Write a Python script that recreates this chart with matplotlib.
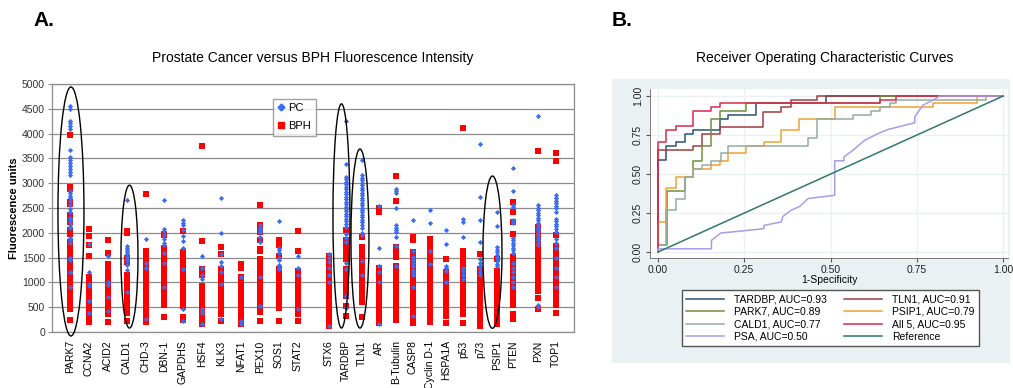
#!/usr/bin/env python3
"""
Two-panel figure:
A. PC vs BPH fluorescence intensity per autoantigen (strip plot)
B. ROC curves for the best markers and the 5-marker panel
"""

import matplotlib
matplotlib.use("Agg")
import matplotlib.pyplot as plt
from matplotlib.patches import Ellipse, Rectangle
from matplotlib.lines import Line2D

plt.rcParams["font.family"] = ["Liberation Sans", "DejaVu Sans"]

# ==========================
# Panel A data
# ==========================
genes = ["PARK7", "CCNA2", "ACID2", "CALD1", "CHD-3", "DBN-1", "GAPDHS", "HSF4",
         "KLK3", "NFAT1", "PEX10", "SOS1", "STAT2", "STX6", "TARDBP", "TLN1",
         "AR", "B-Tubulin", "CASP8", "Cyclin D-1", "HSPA1A", "p53", "p73",
         "PSIP1", "PTEN", "PXN", "TOP1"]

# category positions on the x axis (uneven spacing as in the original sheet)
gene_pos = [18, 37, 56, 75, 94, 112, 131, 150, 169, 189, 208, 227, 246,
            277, 294, 310, 327, 344, 361, 378, 394, 411, 428, 445, 461, 486, 504]

pc_vals = [
    [4560, 4500, 4260, 4210, 4160, 4100, 3660, 3520, 3460, 3400, 3340, 3280, 3220,
     3160, 2850, 2800, 2750, 2700, 2650, 2560, 2480, 2420, 2300, 2250, 2200, 2150,
     2100, 1900, 1850, 1800, 1500, 1450, 1200, 900],                                 # PARK7
    [1780, 1200, 970, 930, 620, 380],                                                 # CCNA2
    [1540, 1000, 950, 700, 420],                                                      # ACID2
    [2670, 1730, 1690, 1650, 1610, 1570, 1530, 1480, 1430, 1360, 1250, 800],          # CALD1
    [1870, 1400, 1300, 260],                                                          # CHD-3
    [2670, 2080, 2030, 1960, 1880, 1800, 1750, 1600, 1400, 900],                      # DBN-1
    [2250, 2200, 2150, 2050, 1930, 1830, 1700, 1270, 460, 220],                       # GAPDHS
    [1530, 1300, 1140, 1070, 460, 420, 380, 155],                                     # HSF4
    [2710, 2000, 1575, 1420, 1340, 1200, 970, 260],                                   # KLK3
    [1100, 220, 160],                                                                 # NFAT1
    [2150, 2100, 2050, 2010, 1920, 1810, 1100, 530],                                  # PEX10
    [2230, 1700, 1650, 1600, 1500, 1450, 1350, 1300, 1270],                           # SOS1
    [1540, 1300, 1140, 460],                                                          # STAT2
    [1580, 1500, 1420, 1300, 1140, 1000, 120],                                        # STX6
    [4250, 3390, 3130, 3080, 3030, 2980, 2930, 2880, 2830, 2780, 2730, 2680, 2630,
     2580, 2530, 2480, 2430, 2380, 2330, 2280, 2230, 2180, 2120, 1980, 1900, 1810,
     1400, 1270, 730, 490],                                                           # TARDBP
    [3470, 3160, 3110, 3060, 3010, 2960, 2910, 2860, 2810, 2760, 2710, 2660, 2610,
     2560, 2510, 2460, 2410, 2360, 2310, 2260, 2210, 2160, 2100, 2000, 1950, 1440,
     1140],                                                                           # TLN1
    [2535, 1690, 1340, 1200, 1000, 155],                                              # AR
    [2890, 2850, 2810, 2510, 2150, 2100, 2050, 2010, 1910, 1740, 1340],               # B-Tubulin
    [2250, 1640, 1510, 1450, 1390, 1330, 1260, 1200, 1140, 900, 325],                 # CASP8
    [2450, 2200, 1630, 1370],                                                         # Cyclin D-1
    [2060, 1780, 1340, 1300, 1240, 1000],                                             # HSPA1A
    [2280, 2220, 1910, 1300, 1230, 1150, 1070],                                       # p53
    [3800, 2720, 2260, 1810, 1470, 1400, 1330, 1270, 1200, 1140],                     # p73
    [2420, 2130, 1710, 1660, 1610, 1560, 1500, 1440, 1380, 1340],                     # PSIP1
    [3300, 2850, 2560, 2530, 2260, 2200, 1900, 1850, 1800, 1750, 1700, 1650, 1600,
     1400, 1300, 1200, 1100, 1000, 900],                                              # PTEN
    [4350, 2560, 2500, 2450, 2400, 2350, 2300, 2250, 2200, 2150, 2100, 2050, 2000,
     1950, 1900, 1850, 1800, 1750, 550, 500],                                         # PXN
    [2760, 2700, 2650, 2600, 2550, 2500, 2420, 2280, 2230, 2180, 2130, 2080, 2010,
     1880, 1800, 1700, 1500, 1300, 1100, 900],                                        # TOP1
]

bph_vals = [
    [3970, 2920, 2880, 2620, 2580, 2360, 2300, 2220, 2050, 1980, 1820, 1780, 1700,
     1650, 1600, 1550, 1500, 1450, 1400, 1350, 1300, 1250, 1200, 1150, 1100, 1050,
     1000, 950, 900, 850, 800, 750, 700, 650, 600, 500, 470, 250],                    # PARK7
    [2080, 1930, 1750, 1530, 1110, 1050, 990, 930, 870, 810, 750, 690, 630, 570,
     510, 450, 390, 330, 200],                                                        # CCNA2
    [1850, 1600, 1370, 1300, 1250, 1130, 1070, 1010, 950, 890, 830, 770, 710, 650,
     590, 530, 470, 410, 360, 200],                                                   # ACID2
    [2040, 2000, 1500, 1420, 1150, 1100, 1040, 980, 920, 860, 800, 740, 680, 620,
     560, 500, 440, 380, 220],                                                        # CALD1
    [2780, 1640, 1540, 1490, 1370, 1300, 1170, 1110, 1050, 990, 930, 870, 810, 750,
     690, 630, 570, 510, 450, 390, 330, 200],                                         # CHD-3
    [1980, 1950, 1700, 1650, 1600, 1550, 1500, 1440, 1380, 1320, 1260, 1200, 1140,
     1080, 1020, 960, 900, 840, 780, 720, 660, 600, 550, 310],                        # DBN-1
    [2030, 1610, 1560, 1500, 1450, 1400, 1300, 1240, 1180, 1120, 1060, 1000, 940,
     880, 820, 760, 700, 640, 580, 530, 310, 250],                                    # GAPDHS
    [3750, 1825, 1270, 1210, 1150, 930, 870, 810, 750, 690, 630, 570, 510, 450,
     390, 330, 270, 210, 160],                                                        # HSF4
    [1720, 1575, 1270, 1210, 1140, 1080, 1020, 960, 900, 840, 780, 720, 660, 600,
     540, 480, 420, 360, 220],                                                        # KLK3
    [1370, 1300, 1100, 1040, 980, 920, 860, 800, 740, 680, 620, 560, 500, 440, 380,
     320, 260, 200, 155],                                                             # NFAT1
    [2570, 2150, 2080, 2010, 1850, 1680, 1640, 1470, 1410, 1350, 1290, 1230, 1170,
     1110, 1050, 990, 930, 870, 810, 750, 690, 630, 570, 530, 410, 220],              # PEX10
    [1850, 1800, 1750, 1540, 1270, 1210, 1150, 1090, 1030, 970, 910, 850, 790, 730,
     670, 610, 550, 490, 220],                                                        # SOS1
    [2040, 1630, 1240, 1180, 1120, 1060, 1000, 940, 880, 820, 760, 700, 640, 580,
     520, 460, 400, 360, 220],                                                        # STAT2
    [1540, 1480, 1420, 1360, 1300, 1240, 1180, 1120, 1060, 1000, 940, 880, 820, 760,
     700, 640, 580, 520, 460, 400, 340, 280, 220, 160, 120],                          # STX6
    [2050, 1850, 1780, 1720, 1660, 1600, 1540, 1480, 1270, 1210, 1150, 1090, 1030,
     970, 910, 850, 790, 730, 530, 325],                                              # TARDBP
    [1910, 1710, 1650, 1590, 1530, 1470, 1400, 1340, 1200, 1140, 1080, 1020, 960,
     900, 840, 780, 720, 600, 310],                                                   # TLN1
    [2500, 2420, 1300, 1240, 1180, 1120, 1060, 1000, 940, 880, 820, 760, 700, 640,
     580, 520, 460, 400, 340, 280, 220, 190],                                         # AR
    [3150, 2650, 1710, 1650, 1580, 1510, 1340, 1280, 1220, 1160, 1100, 1040, 980,
     920, 860, 800, 740, 680, 620, 560, 500, 440, 380, 325, 245],                     # B-Tubulin
    [1910, 1850, 1610, 1510, 1450, 1390, 1330, 1270, 1210, 1150, 1090, 1030, 970,
     910, 850, 790, 730, 670, 610, 550, 490, 430, 370, 310, 250, 190],                # CASP8
    [1880, 1820, 1760, 1700, 1640, 1580, 1520, 1460, 1400, 1340, 1280, 1220, 1160,
     1100, 1040, 980, 920, 860, 800, 740, 680, 620, 560, 500, 440, 380, 320, 260,
     200],                                                                            # Cyclin D-1
    [1470, 1200, 1140, 1080, 1020, 960, 900, 840, 780, 720, 660, 600, 540, 480, 420,
     360, 325, 190],                                                                  # HSPA1A
    [4120, 1640, 1580, 1520, 1460, 1400, 1340, 1280, 1220, 1160, 1100, 1040, 980,
     920, 860, 800, 740, 680, 620, 560, 500, 460, 360, 190],                          # p53
    [1575, 1270, 1210, 1150, 1090, 1030, 970, 910, 850, 790, 730, 670, 610, 550,
     490, 430, 370, 310, 250, 190, 120],                                              # p73
    [1470, 1240, 1180, 1120, 1060, 1000, 940, 880, 820, 760, 700, 640, 580, 520,
     460, 400, 340, 280, 220, 155],                                                   # PSIP1
    [2620, 2420, 2220, 1980, 1510, 1450, 1390, 1330, 1270, 1210, 1150, 1090, 1030,
     970, 910, 850, 790, 730, 670, 610, 550, 360, 300, 260],                          # PTEN
    [3650, 2120, 2060, 2000, 1940, 1880, 1820, 1760, 1700, 1640, 1580, 1520, 1460,
     1400, 1340, 1280, 1220, 1160, 1100, 1040, 980, 920, 860, 830, 680, 460],         # PXN
    [3600, 3450, 1960, 1740, 1680, 1610, 1510, 1450, 1390, 1330, 1270, 1210, 1150,
     1090, 1030, 970, 910, 850, 790, 730, 670, 610, 550, 380],                        # TOP1
]

# circled markers: (gene, x offset, y centre, width, height)
circled = [("PARK7", 1, 2430, 26, 5020),
           ("CALD1", 2.5, 1520, 17, 2880),
           ("TARDBP", -4.5, 2340, 17, 4520),
           ("TLN1", -2, 1885, 18, 3610),
           ("PSIP1", -4.5, 1610, 19, 3070)]

# ==========================
# Panel B data (ROC vertices)
# ==========================
roc_tardbp_fpr = [0, 0, 0.024, 0.024, 0.051, 0.051, 0.077, 0.077, 0.103, 0.103, 0.18, 0.18,
                  0.203, 0.203, 0.283, 0.283, 0.488, 0.488, 1.0]
roc_tardbp_tpr = [0, 0.59, 0.59, 0.68, 0.68, 0.707, 0.707, 0.756, 0.756, 0.78, 0.78, 0.852,
                  0.852, 0.878, 0.878, 0.953, 0.953, 1.0, 1.0]

roc_tln1_fpr = [0, 0, 0.103, 0.103, 0.128, 0.128, 0.18, 0.18, 0.304, 0.304, 0.357, 0.357,
                0.384, 0.384, 0.461, 0.461, 1.0]
roc_tln1_tpr = [0, 0.657, 0.657, 0.68, 0.68, 0.756, 0.756, 0.80, 0.80, 0.90, 0.90, 0.927,
                0.927, 0.975, 0.975, 1.0, 1.0]

roc_park7_fpr = [0, 0, 0.026, 0.026, 0.077, 0.077, 0.103, 0.103, 0.128, 0.128, 0.155, 0.155,
                 0.18, 0.18, 0.256, 0.256, 0.642, 0.642, 1.0]
roc_park7_tpr = [0, 0.047, 0.047, 0.39, 0.39, 0.48, 0.48, 0.585, 0.585, 0.68, 0.68, 0.852,
                 0.852, 0.904, 0.904, 0.953, 0.953, 1.0, 1.0]

roc_psip1_fpr = [0, 0, 0.024, 0.024, 0.051, 0.051, 0.103, 0.103, 0.155, 0.155, 0.18, 0.18,
                 0.203, 0.203, 0.256, 0.256, 0.307, 0.307, 0.357, 0.357, 0.409, 0.409,
                 0.512, 0.512, 0.797, 0.797, 0.925, 0.925, 1.0]
roc_psip1_tpr = [0, 0.193, 0.193, 0.413, 0.413, 0.48, 0.48, 0.535, 0.535, 0.561, 0.561,
                 0.585, 0.585, 0.632, 0.632, 0.68, 0.68, 0.707, 0.707, 0.78, 0.78, 0.852,
                 0.852, 0.927, 0.927, 0.953, 0.953, 1.0, 1.0]

roc_cald1_fpr = [0, 0, 0.024, 0.024, 0.051, 0.051, 0.077, 0.077, 0.103, 0.103, 0.128, 0.128,
                 0.155, 0.155, 0.182, 0.182, 0.203, 0.203, 0.435, 0.435, 0.462, 0.462,
                 0.565, 0.565, 0.618, 0.618, 0.643, 0.643, 0.671, 0.671, 0.691, 0.691,
                 0.949, 0.949, 1.0]
roc_cald1_tpr = [0, 0.047, 0.047, 0.268, 0.268, 0.343, 0.343, 0.48, 0.48, 0.535, 0.535,
                 0.561, 0.561, 0.585, 0.585, 0.632, 0.632, 0.68, 0.68, 0.732, 0.732, 0.852,
                 0.852, 0.878, 0.878, 0.904, 0.904, 0.927, 0.927, 0.953, 0.953, 0.975,
                 0.975, 1.0, 1.0]

roc_all5_fpr = [0, 0, 0.024, 0.024, 0.051, 0.051, 0.103, 0.103, 0.155, 0.155, 0.18, 0.18,
                0.642, 0.642, 0.69, 0.69, 1.0]
roc_all5_tpr = [0, 0.707, 0.707, 0.78, 0.78, 0.807, 0.807, 0.904, 0.904, 0.927, 0.927,
                0.953, 0.953, 0.975, 0.975, 1.0, 1.0]

roc_psa_fpr = [0, 0, 0.155, 0.155, 0.182, 0.242, 0.307, 0.307, 0.357, 0.362, 0.386, 0.411,
               0.435, 0.512, 0.512, 0.539, 0.539, 0.565, 0.599, 0.638, 0.667, 0.705,
               0.744, 0.744, 0.768, 0.797, 0.816, 1.0]
roc_psa_tpr = [0, 0.021, 0.021, 0.075, 0.122, 0.135, 0.15, 0.171, 0.193, 0.229, 0.268,
               0.293, 0.343, 0.364, 0.585, 0.585, 0.61, 0.653, 0.717, 0.76, 0.786, 0.807,
               0.829, 0.867, 0.942, 0.974, 1.0, 1.0]

ref_fpr = [0, 1]
ref_tpr = [0, 1]

# ==========================
# Palette
# ==========================
pc_blue = "#3a6cf4"
bph_red = "#ff0000"
grid_gray = "#8c8c8c"
stata_bg = "#eaf1f3"

roc_series = [
    ("TARDBP, AUC=0.93", roc_tardbp_fpr, roc_tardbp_tpr, "#2b5276"),
    ("TLN1, AUC=0.91", roc_tln1_fpr, roc_tln1_tpr, "#a33c40"),
    ("PARK7, AUC=0.89", roc_park7_fpr, roc_park7_tpr, "#6e8f3d"),
    ("PSIP1, AUC=0.79", roc_psip1_fpr, roc_psip1_tpr, "#f0a232"),
    ("CALD1, AUC=0.77", roc_cald1_fpr, roc_cald1_tpr, "#93aca2"),
    ("All 5, AUC=0.95", roc_all5_fpr, roc_all5_tpr, "#d92a50"),
    ("PSA, AUC=0.50", roc_psa_fpr, roc_psa_tpr, "#a99ce8"),
    ("Reference", ref_fpr, ref_tpr, "#2e7a68"),
]

fig = plt.figure(figsize=(10.13, 3.88), dpi=100)

# --------------------------
# Panel A
# --------------------------
axA = fig.add_axes([0.0513, 0.1443, 0.5153, 0.6392])

for x, vals in zip(gene_pos, bph_vals):
    axA.scatter([x] * len(vals), vals, marker="s", s=13, color=bph_red,
                linewidths=0, zorder=3)
for x, vals in zip(gene_pos, pc_vals):
    axA.scatter([x] * len(vals), vals, marker="D", s=7, color=pc_blue,
                linewidths=0, zorder=4)

for name, dx, cy, w, h in circled:
    cx = gene_pos[genes.index(name)] + dx
    axA.add_patch(Ellipse((cx, cy), w, h, fill=False, edgecolor="black",
                          lw=1.0, zorder=5, clip_on=False))

axA.set_xlim(0, 522)
axA.set_ylim(0, 5000)
axA.set_yticks(range(0, 5001, 500))
axA.yaxis.grid(True, color=grid_gray, lw=0.9)
axA.set_axisbelow(True)
axA.set_xticks(gene_pos)
axA.set_xticklabels(genes, rotation=90, fontsize=7.5, va="top", ha="center")
axA.tick_params(axis="x", length=0, pad=6)
axA.tick_params(axis="y", labelsize=7.5, length=3, color=grid_gray,
                labelcolor="#333333", pad=2)
for sp in axA.spines.values():
    sp.set_color(grid_gray)
    sp.set_linewidth(0.9)
axA.set_ylabel("Fluorescence units", fontsize=8, fontweight="bold", labelpad=2)

legA = [Line2D([], [], marker="D", color=pc_blue, ls="none", markersize=3.5, label="PC"),
        Line2D([], [], marker="s", color=bph_red, ls="none", markersize=4, label="BPH")]
axA.legend(handles=legA, loc="upper left", bbox_to_anchor=(0.423, 0.94),
           fontsize=8, frameon=True, fancybox=False, edgecolor=grid_gray,
           handlelength=0.6, handletextpad=0.4, borderpad=0.4, labelspacing=0.7,
           borderaxespad=0)

fig.text(313 / 1013, 1 - 58 / 388, "Prostate Cancer versus BPH Fluorescence Intensity",
         ha="center", va="center", fontsize=10)
fig.text(33 / 1013, 1 - 20 / 388, "A.", ha="left", va="center", fontsize=15,
         fontweight="bold")

# --------------------------
# Panel B
# --------------------------
fig.add_artist(Rectangle((612 / 1013, 1 - 363 / 388), (1010 - 612) / 1013,
                         (363 - 79) / 388, transform=fig.transFigure,
                         facecolor=stata_bg, edgecolor="none", zorder=0))

axB = fig.add_axes([650 / 1013, 1 - 258 / 388, 358 / 1013, 169 / 388])
axB.set_facecolor("white")
for label, fpr, tpr, col in roc_series:
    axB.plot(fpr, tpr, color=col, lw=1.1, label=label)

axB.set_xlim(-0.023, 1.014)
axB.set_ylim(-0.038, 1.045)
ticks = [0, 0.25, 0.5, 0.75, 1.0]
axB.set_xticks(ticks)
axB.set_yticks(ticks)
axB.set_xticklabels([f"{t:.2f}" for t in ticks])
axB.set_yticklabels([f"{t:.2f}" for t in ticks], rotation=90, va="center")
axB.grid(True, color=stata_bg, lw=1.0)
axB.set_axisbelow(True)
axB.tick_params(labelsize=7.5, length=3, color="#555555", labelcolor="#222222", pad=2)
for side in ["top", "right"]:
    axB.spines[side].set_visible(False)
for side in ["left", "bottom"]:
    axB.spines[side].set_color("#666666")
    axB.spines[side].set_linewidth(0.6)
axB.set_xlabel("1-Specificity", fontsize=7.5, labelpad=0)

handles, labels = axB.get_legend_handles_labels()
order = [0, 2, 4, 6, 1, 3, 5, 7]   # column-wise fill to read row-wise
fig.legend([handles[i] for i in order], [labels[i] for i in order],
           loc="upper left", bbox_to_anchor=(682 / 1013, 1 - 290 / 388, 297 / 1013, 0.0),
           mode="expand", ncol=2, fontsize=7.5, frameon=True, fancybox=False,
           edgecolor="#555555", framealpha=1, handlelength=3.6, handletextpad=1.0,
           labelspacing=0.25, borderpad=0.4, borderaxespad=0, columnspacing=2.0)

fig.text(825 / 1013, 1 - 58 / 388, "Receiver Operating Characteristic Curves",
         ha="center", va="center", fontsize=10)
fig.text(612 / 1013, 1 - 20 / 388, "B.", ha="left", va="center", fontsize=15,
         fontweight="bold")

fig.savefig("out.png", dpi=100)
